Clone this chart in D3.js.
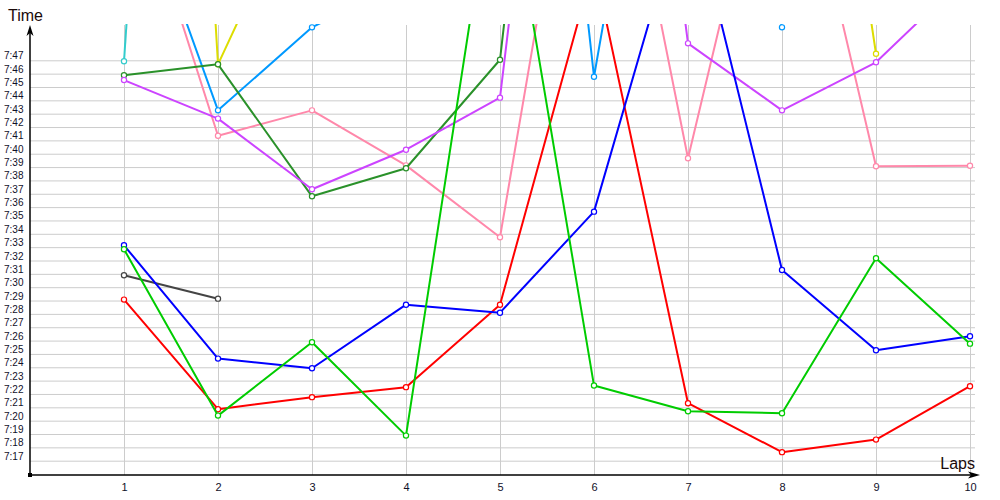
<!DOCTYPE html>
<html>
<head>
<meta charset="utf-8">
<script src="https://cdn.jsdelivr.net/npm/d3@7"></script>
<style>
  body { margin: 0; background: #fff; }
  svg { display: block; font-family: "Liberation Sans", Arial, sans-serif; }
</style>
</head>
<body>
<svg id="chart" width="1000" height="500"></svg>
<script>
// lap numbers
const laps = [1, 2, 3, 4, 5, 6, 7, 8, 9, 10];

// lap times (m:ss.s), one array per driver; values above ~7:50 run off the top
const red       = ["7:29.07", "7:20.86", "7:21.76", "7:22.51", "7:28.69", "7:54.2", "7:21.31", "7:17.64", "7:18.58", "7:22.58"];
const blue      = ["7:33.14", "7:24.65", "7:23.93", "7:28.69", "7:28.09", "7:35.66", "7:59.9", "7:31.29", "7:25.28", "7:26.33"];
const green     = ["7:32.84", "7:20.38", "7:25.88", "7:18.88", "8:04.5", "7:22.63", "7:20.70", "7:20.56", "7:32.17", "7:25.77"];
const grey      = ["7:30.90", "7:29.14"];
const darkGreen = ["7:45.88", "7:46.70", "7:36.81", "7:38.91", "7:47.04", "8:48.5"];
const purple    = ["7:45.52", "7:42.63", "7:37.34", "7:40.30", "7:44.20", "8:43.0", "7:48.27", "7:43.25", "7:46.85", "7:53.6"];
const pink      = ["8:03.4", "7:41.35", "7:43.25", "7:39.13", "7:33.74", "8:14.9", "7:39.66", "8:09.2", "7:39.06", "7:39.10"];
const lightBlue = ["8:02.8", "7:43.25", "7:49.47", "7:53.0", "8:49.9", "7:45.77", "8:26.0", "7:49.47"];
const cyan      = ["7:46.93", "9:32.0"];
const yellow    = ["9:46.0", "7:46.70", "8:01.8", "8:05.0", "8:03.0", "8:06.0", "8:02.0", "8:34.4", "7:47.49"];

// y tick labels, every second from 7:17 to 7:47
const yTicks = d3.range(437, 468);

const series = [
  { name: "pink", times: pink, color: "#ff88aa" },
  { name: "yellow", times: yellow, color: "#dddd00" },
  { name: "cyan", times: cyan, color: "#33cccc" },
  { name: "lightBlue", times: lightBlue, color: "#0099ff" },
  { name: "darkGreen", times: darkGreen, color: "#2a912a" },
  { name: "purple", times: purple, color: "#cc44ff" },
  { name: "grey", times: grey, color: "#444444" },
  { name: "red", times: red, color: "#ff0000" },
  { name: "blue", times: blue, color: "#0000ff" },
  { name: "green", times: green, color: "#00cc00" }
];

function toSec(s) {
  const p = s.split(":");
  return +p[0] * 60 + +p[1];
}
function fmt(v) {
  const m = Math.floor(v / 60), s = Math.round(v - m * 60);
  return m + ":" + (s < 10 ? "0" : "") + s;
}

const svg = d3.select("#chart");

const x = d3.scaleLinear().domain([0, 10]).range([30, 970]);
const y = d3.scaleLinear().domain([437, 467]).range([460.7, 60.3]);

const plotTop = 25, plotBottom = 475, plotLeft = 30, plotRight = 975;

// grid
svg.append("g")
  .attr("transform", `translate(${plotLeft},0)`)
  .call(d3.axisLeft(y).tickValues(yTicks).tickSize(-(plotRight - plotLeft)).tickFormat(""))
  .call(g => g.select(".domain").remove())
  .call(g => g.selectAll("line").attr("stroke", "#cccccc"));

svg.append("g")
  .attr("transform", `translate(0,${plotBottom})`)
  .call(d3.axisBottom(x).tickValues(laps).tickSize(-(plotBottom - plotTop)).tickFormat(""))
  .call(g => g.select(".domain").remove())
  .call(g => g.selectAll("line").attr("stroke", "#cccccc"));

// y labels
svg.append("g")
  .attr("transform", `translate(${plotLeft},0)`)
  .call(d3.axisLeft(y).tickValues(yTicks).tickSize(0).tickFormat(fmt))
  .call(g => g.select(".domain").remove())
  .call(g => g.selectAll("text")
    .attr("x", -26).attr("dy", "-1.5")
    .attr("text-anchor", "start")
    .attr("fill", "#10102a")
    .style("font-size", "10px")
    .style("font-family", "Liberation Sans, Arial, sans-serif"));

// x labels
svg.append("g")
  .attr("transform", `translate(0,${plotBottom})`)
  .call(d3.axisBottom(x).tickValues(laps).tickSize(0).tickPadding(8))
  .call(g => g.select(".domain").remove())
  .call(g => g.selectAll("text")
    .attr("fill", "#10102a")
    .style("font-size", "11px")
    .style("font-family", "Liberation Sans, Arial, sans-serif"));

// clip for the plot
svg.append("clipPath").attr("id", "plot")
  .append("rect").attr("x", plotLeft).attr("y", 24).attr("width", 960).attr("height", plotBottom - 24);

const plot = svg.append("g").attr("clip-path", "url(#plot)");

const line = d3.line()
  .x((d, i) => x(laps[i]))
  .y(d => y(toSec(d)));

series.forEach(s => {
  const g = plot.append("g");
  g.append("path")
    .attr("d", line(s.times))
    .attr("fill", "none")
    .attr("stroke", s.color)
    .attr("stroke-width", 2)
    .attr("stroke-linejoin", "round");
  g.selectAll("circle")
    .data(s.times)
    .enter()
    .append("circle")
    .attr("cx", (d, i) => x(laps[i]))
    .attr("cy", d => y(toSec(d)))
    .attr("r", 2.6)
    .attr("fill", "#fff")
    .attr("stroke", s.color)
    .attr("stroke-width", 1.2);
});

// axes with arrows
svg.append("line")
  .attr("x1", plotLeft).attr("y1", plotBottom).attr("x2", plotLeft).attr("y2", 30)
  .attr("stroke", "#000").attr("stroke-width", 1.5);
svg.append("path")
  .attr("d", `M${plotLeft},25 L${plotLeft - 3.5},36 L${plotLeft},33 L${plotLeft + 3.5},36 Z`)
  .attr("fill", "#000");
svg.append("line")
  .attr("x1", plotLeft).attr("y1", plotBottom).attr("x2", 975).attr("y2", plotBottom)
  .attr("stroke", "#000").attr("stroke-width", 1.5);
svg.append("path")
  .attr("d", `M980,${plotBottom} L968,${plotBottom - 3.5} L971,${plotBottom} L968,${plotBottom + 3.5} Z`)
  .attr("fill", "#000");
svg.append("rect")
  .attr("x", plotLeft - 2).attr("y", plotBottom - 2).attr("width", 4).attr("height", 4)
  .attr("fill", "#000");

// axis titles
svg.append("text")
  .attr("x", 8).attr("y", 21)
  .attr("fill", "#1a0a0a")
  .style("font-size", "16px")
  .text("Time");
svg.append("text")
  .attr("x", 975).attr("y", 469)
  .attr("text-anchor", "end")
  .attr("fill", "#1a0a0a")
  .style("font-size", "16px")
  .text("Laps");
</script>
</body>
</html>
